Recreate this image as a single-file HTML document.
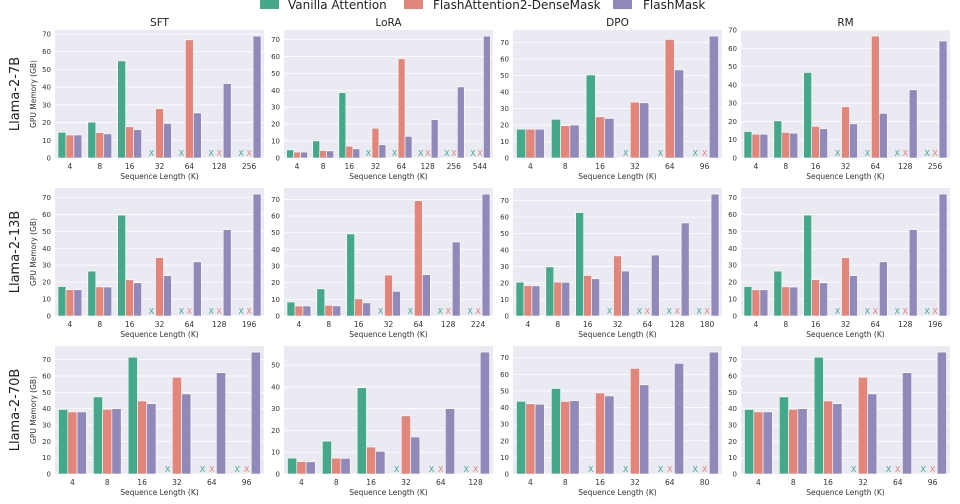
<!DOCTYPE html>
<html><head><meta charset="utf-8"><style>
html,body{margin:0;padding:0;background:#fff;}
svg{display:block;font-family:"DejaVu Sans","Liberation Sans",sans-serif;}
</style></head><body>
<svg id="chart" width="960" height="504" viewBox="0 0 960 504">
<g>
<rect x="260" y="0" width="19" height="9" fill="#45a88b"/>
<text x="288" y="9" font-size="12" fill="#222">Vanilla Attention</text>
<rect x="404" y="0" width="19" height="9" fill="#e2857b"/>
<text x="433" y="9" font-size="12" fill="#222">FlashAttention2-DenseMask</text>
<rect x="613" y="0" width="19" height="9" fill="#8f8aba"/>
<text x="643" y="9" font-size="12" fill="#222">FlashMask</text>
</g>
</svg>
<script>
// ---- data (null = out of memory, drawn as X) ----
const sft7bCats=["4","8","16","32","64","128","256"];
const sft7bVanilla=[14.5,20.2,54.8,null,null,null,null];
const sft7bDense=[13,14.3,17.6,27.8,66.7,null,null];
const sft7bFlash=[13,13.6,16,19.5,25.4,42,68.8];
const lora7bCats=["4","8","16","32","64","128","256","544"];
const lora7bVanilla=[4.8,10.1,38.6,null,null,null,null,null];
const lora7bDense=[3.5,4.4,7,17.6,58.6,null,null,null];
const lora7bFlash=[3.5,4.2,5.4,7.8,12.8,22.6,42,72];
const dpo7bCats=["4","8","16","32","64","96"];
const dpo7bVanilla=[17.5,23.5,50.4,null,null,null];
const dpo7bDense=[17.5,19.6,25,33.9,72,null];
const dpo7bFlash=[17.5,20,24,33.5,53.5,74];
const rm7bCats=["4","8","16","32","64","128","256"];
const rm7bVanilla=[14.5,20.3,46.8,null,null,null,null];
const rm7bDense=[13,14,17.3,28,66.7,null,null];
const rm7bFlash=[13,13.6,16,18.7,24.4,37.3,64];
const sft13bCats=["4","8","16","32","64","128","196"];
const sft13bVanilla=[17.4,26.5,59.6,null,null,null,null];
const sft13bDense=[15.5,17.2,21.4,34.5,null,null,null];
const sft13bFlash=[15.5,17.1,19.6,23.8,32,51,72];
const lora13bCats=["4","8","16","32","64","128","224"];
const lora13bVanilla=[8.4,16.3,49.3,null,null,null,null];
const lora13bDense=[6,6.4,10.3,24.6,69.2,null,null];
const lora13bFlash=[6,6.1,7.9,14.8,24.8,44.4,73.2];
const dpo13bCats=["4","8","16","32","64","128","180"];
const dpo13bVanilla=[20.5,29.8,62.8,null,null,null,null];
const dpo13bDense=[18.5,20.6,24.6,36.5,null,null,null];
const dpo13bFlash=[18.3,20.4,22.6,27.3,37,56.5,74];
const rm13bCats=["4","8","16","32","64","128","196"];
const rm13bVanilla=[17.4,26.5,59.6,null,null,null,null];
const rm13bDense=[15.5,17.2,21.4,34.5,null,null,null];
const rm13bFlash=[15.5,17.1,19.6,23.8,32,51,72];
const sft70bCats=["4","8","16","32","64","96"];
const sft70bVanilla=[39.5,47.2,71.5,null,null,null];
const sft70bDense=[38,39.6,44.7,59.2,null,null];
const sft70bFlash=[38,40,43,49,62,74.6];
const lora70bCats=["4","8","16","32","64","128"];
const lora70bVanilla=[7.3,15.1,39.6,null,null,null];
const lora70bDense=[5.7,7.3,12.4,26.7,null,null];
const lora70bFlash=[5.6,7.2,10.4,17,30,56];
const dpo70bCats=["4","8","16","32","64","80"];
const dpo70bVanilla=[43.8,51.5,null,null,null,null];
const dpo70bDense=[42.3,43.7,48.8,63.6,null,null];
const dpo70bFlash=[42,44.2,47,53.7,66.6,73.4];
const rm70bCats=["4","8","16","32","64","96"];
const rm70bVanilla=[39.5,47.2,71.5,null,null,null];
const rm70bDense=[38,39.6,44.7,59.2,null,null];
const rm70bFlash=[38,40,43,49,62,74.6];
const taskTitles=["SFT","LoRA","DPO","RM"];
const modelNames=["Llama-2-7B","Llama-2-13B","Llama-2-70B"];

const panels=[
 [sft7bCats,sft7bVanilla,sft7bDense,sft7bFlash],[lora7bCats,lora7bVanilla,lora7bDense,lora7bFlash],
 [dpo7bCats,dpo7bVanilla,dpo7bDense,dpo7bFlash],[rm7bCats,rm7bVanilla,rm7bDense,rm7bFlash],
 [sft13bCats,sft13bVanilla,sft13bDense,sft13bFlash],[lora13bCats,lora13bVanilla,lora13bDense,lora13bFlash],
 [dpo13bCats,dpo13bVanilla,dpo13bDense,dpo13bFlash],[rm13bCats,rm13bVanilla,rm13bDense,rm13bFlash],
 [sft70bCats,sft70bVanilla,sft70bDense,sft70bFlash],[lora70bCats,lora70bVanilla,lora70bDense,lora70bFlash],
 [dpo70bCats,dpo70bVanilla,dpo70bDense,dpo70bFlash],[rm70bCats,rm70bVanilla,rm70bDense,rm70bFlash]
];
const colors=["#45a88b","#e2857b","#8f8aba"];
const seriesKeys=["vanilla","densemask","flashmask"];
const NS="http://www.w3.org/2000/svg";
const svg=document.getElementById("chart");
function mk(tag,attrs,parent,text){const e=document.createElementNS(NS,tag);for(const k in attrs)e.setAttribute(k,attrs[k]);if(text!==undefined)e.textContent=text;parent.appendChild(e);return e;}
const colLeft=[55,284,513,741], W=209, rowTop=[30,188,346], H=128;
panels.forEach((p,idx)=>{
  const r=Math.floor(idx/4), c=idx%4;
  const x0=colLeft[c], y0=rowTop[r], yb=y0+H;
  const cats=p[0], series=[p[1],p[2],p[3]];
  let mx=0; series.forEach(s=>s.forEach(v=>{if(v!==null&&v>mx)mx=v;}));
  const ymax=mx*1.05;
  const ys=v=>yb-v/ymax*H;
  const bw=W/cats.length;
  const xs=i=>x0+bw*(i+0.5);
  const g=mk("g",{},svg);
  
  
  const bg=mk("rect",{x:x0,y:y0,width:W,height:H,fill:"#eaeaf2"},g);
  
  
  for(let t=0;t<=ymax;t+=10){
    const y=ys(t);
    const gl=mk("line",{x1:x0,x2:x0+W,y1:y,y2:y,stroke:"#fff","stroke-width":0.8},g);
    
    
    const tl=mk("text",{x:x0-4,y:y+2.5,"font-size":7,"text-anchor":"end",fill:"#333"},g,String(t));
    
    
  }
  cats.forEach((cat,i)=>{
    const cx=xs(i), barW=bw*0.8/3;
    series.forEach((s,k)=>{
      const bx=cx-bw*0.4+k*barW;
      const v=s[i];
      if(v===null){
        const xm=mk("text",{x:bx+barW/2,y:yb-2,"font-size":8,"text-anchor":"middle",fill:colors[k]},g,"X");
        
        
      } else {
        const b=mk("rect",{x:bx,y:ys(v),width:barW,height:yb-ys(v),fill:colors[k],stroke:"#fff","stroke-width":0.6},g);
        
        
      }
    });
    const xl=mk("text",{x:cx,y:yb+11,"font-size":7.5,"text-anchor":"middle",fill:"#333"},g,cat);
    
    
  });
  const xt=mk("text",{x:x0+W/2,y:yb+21,"font-size":7.5,"text-anchor":"middle",fill:"#333"},g,"Sequence Length (K)");
  
  
  if(r===0){
    const tt=mk("text",{x:x0+W/2,y:y0-4,"font-size":10.5,"text-anchor":"middle",fill:"#222"},g,taskTitles[c]);
    
    
  }
  if(c===0){
    const yt=mk("text",{x:0,y:0,"font-size":7.5,"text-anchor":"middle",fill:"#333",transform:`translate(${x0-19},${y0+H/2}) rotate(-90)`},g,"GPU Memory (GB)");
    
    
    const rl=mk("text",{x:0,y:0,"font-size":13,"text-anchor":"middle",fill:"#222",transform:`translate(${x0-36},${y0+H/2}) rotate(-90)`},g,modelNames[r]);
    
    
  }
});
</script>
</body></html>
